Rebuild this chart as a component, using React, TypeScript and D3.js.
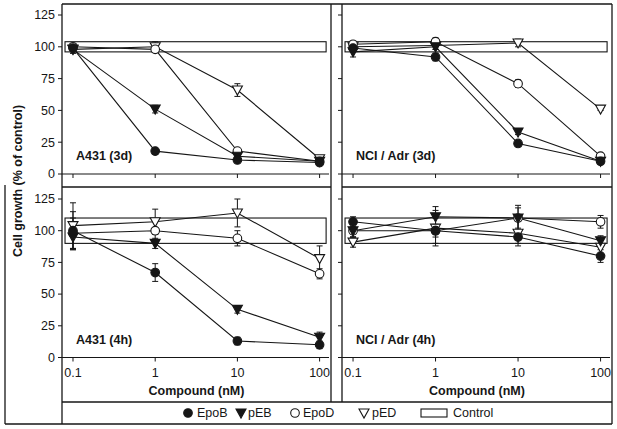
import React from "react";
import * as d3 from "d3";

// ---- data ----
const concentrations = [0.1, 1, 10, 100];
const xTicks = [0.1, 1, 10, 100];
const xTickLabels = ["0.1", "1", "10", "100"];
const yTicks = [0, 25, 50, 75, 100, 125];
const seriesNames = ["EpoB", "pEB", "EpoD", "pED"];
const panelTitles = ["A431 (3d)", "NCI / Adr (3d)", "A431 (4h)", "NCI / Adr (4h)"];

// A431 (3d)
const a431_3d_EpoB = [99, 18, 11, 9];
const a431_3d_pEB = [98, 51, 14, 10];
const a431_3d_EpoD = [100, 98, 18, 10];
const a431_3d_pED = [98, 100, 66, 12];
const a431_3d_err = [[2, 1, 1, 1], [3, 3, 1, 1], [2, 2, 1, 1], [3, 4, 5, 2]];

// NCI / Adr (3d)
const nci_3d_EpoB = [99, 92, 24, 10];
const nci_3d_pEB = [96, 100, 33, 10];
const nci_3d_EpoD = [102, 104, 71, 14];
const nci_3d_pED = [100, 101, 103, 51];
const nci_3d_err = [[2, 3, 1, 1], [4, 2, 2, 1], [2, 3, 3, 1], [2, 3, 3, 1]];

// A431 (4h)
const a431_4h_EpoB = [100, 67, 13, 10];
const a431_4h_pEB = [95, 90, 38, 16];
const a431_4h_EpoD = [98, 100, 94, 66];
const a431_4h_pED = [104, 107, 114, 78];
const a431_4h_err = [[15, 7, 3, 3], [10, 4, 3, 4], [12, 8, 6, 4], [18, 10, 11, 10]];

// NCI / Adr (4h)
const nci_4h_EpoB = [107, 100, 95, 80];
const nci_4h_pEB = [100, 111, 110, 92];
const nci_4h_EpoD = [100, 100, 110, 107];
const nci_4h_pED = [91, 102, 98, 87];
const nci_4h_err = [[4, 5, 5, 5], [5, 8, 8, 4], [5, 10, 10, 5], [4, 14, 10, 6]];

// control band (mean +/- range) per panel
const controlLow = [96, 96, 90, 90];
const controlHigh = [104, 104, 110, 110];
const controlX = [0.08, 120];

const panelValues = [
  [a431_3d_EpoB, a431_3d_pEB, a431_3d_EpoD, a431_3d_pED],
  [nci_3d_EpoB, nci_3d_pEB, nci_3d_EpoD, nci_3d_pED],
  [a431_4h_EpoB, a431_4h_pEB, a431_4h_EpoD, a431_4h_pED],
  [nci_4h_EpoB, nci_4h_pEB, nci_4h_EpoD, nci_4h_pED],
];
const panelErrors = [a431_3d_err, nci_3d_err, a431_4h_err, nci_4h_err];

// ---- layout ----
const W = 617;
const H = 429;
const INK = "#161616";
const FONT = "'Liberation Sans', Arial, Helvetica, sans-serif";
const cols = [
  { x0: 62, x1: 331 },
  { x0: 342, x1: 612 },
];
const rows = [
  { y0: 174, y1: 15 },
  { y0: 357.5, y1: 199 },
];
const TOP = 4;
const DIV = 187;
const LEG_TOP = 402;
const BOTTOM = 424;

function Marker({ type, x, y }: { type: number; x: number; y: number }) {
  const filled = type === 0 || type === 1;
  const fill = filled ? INK : "#fff";
  if (type === 0 || type === 2) {
    return <circle cx={x} cy={y} r={4.3} fill={fill} stroke={INK} strokeWidth={1.1} />;
  }
  const p = `M${x - 5},${y - 4}L${x + 5},${y - 4}L${x},${y + 5}Z`;
  return <path d={p} fill={fill} stroke={INK} strokeWidth={1.1} strokeLinejoin="miter" />;
}

function Panel({ idx }: { idx: number }) {
  const col = cols[idx % 2];
  const row = rows[Math.floor(idx / 2)];
  const x = d3.scaleLog().domain([0.0735, 137.6]).range([col.x0, col.x1]);
  const y = d3.scaleLinear().domain([0, 125]).range([row.y0, row.y1]);
  const values = panelValues[idx];
  const errs = panelErrors[idx];
  const line = d3
    .line<number>()
    .x((_, i) => x(concentrations[i]))
    .y((v) => y(v));
  const showLabels = idx % 2 === 0;
  return (
    <g>
      {/* control box */}
      <rect
        x={x(controlX[0])}
        y={y(controlHigh[idx])}
        width={x(controlX[1]) - x(controlX[0])}
        height={y(controlLow[idx]) - y(controlHigh[idx])}
        fill="none"
        stroke={INK}
        strokeWidth={1.1}
      />
      {/* x axis */}
      <line x1={col.x0} x2={col.x1 - 2} y1={row.y0} y2={row.y0} stroke={INK} strokeWidth={1.2} />
      {xTicks.map((t, i) => (
        <g key={i}>
          <line x1={x(t)} x2={x(t)} y1={row.y0} y2={row.y0 + 4} stroke={INK} strokeWidth={1} />
          {idx >= 2 && (
            <text x={x(t)} y={row.y0 + 19} textAnchor="middle" fontSize={12.5} fontFamily={FONT} fill={INK}>
              {xTickLabels[i]}
            </text>
          )}
        </g>
      ))}
      {/* y ticks */}
      {yTicks.map((t) => (
        <g key={t}>
          <line x1={col.x0 - 4} x2={col.x0} y1={y(t)} y2={y(t)} stroke={INK} strokeWidth={1} />
          {showLabels && (
            <text
              x={col.x0 - 7}
              y={y(t)}
              dy="0.35em"
              textAnchor="end"
              fontSize={12.5}
              fontFamily={FONT}
              fill={INK}
            >
              {t}
            </text>
          )}
        </g>
      ))}
      {/* lines */}
      {values.map((vals, s) => (
        <path key={s} d={line(vals) || ""} fill="none" stroke={INK} strokeWidth={1.1} />
      ))}
      {/* error bars */}
      {values.map((vals, s) =>
        vals.map((v, i) => {
          const e = errs[s][i];
          const cx = x(concentrations[i]);
          return (
            <g key={`${s}-${i}`} stroke={INK} strokeWidth={1}>
              <line x1={cx} x2={cx} y1={y(v - e)} y2={y(v + e)} />
              <line x1={cx - 3} x2={cx + 3} y1={y(v + e)} y2={y(v + e)} />
              <line x1={cx - 3} x2={cx + 3} y1={y(v - e)} y2={y(v - e)} />
            </g>
          );
        })
      )}
      {/* markers */}
      {[3, 2, 1, 0].map((s) =>
        values[s].map((v, i) => <Marker key={`${s}-${i}`} type={s} x={x(concentrations[i])} y={y(v)} />)
      )}
      <text
        x={col.x0 + 14}
        y={row.y0 - 14}
        fontSize={12.5}
        fontWeight="bold"
        fontFamily={FONT}
        fill={INK}
      >
        {panelTitles[idx]}
      </text>
    </g>
  );
}

const legendX = [188, 241, 295, 364];
const legendTextX = [197, 248, 303, 372];

export default function App() {
  const legY = (LEG_TOP + BOTTOM) / 2;
  return (
    <svg
      width={W}
      height={H}
      viewBox={`0 0 ${W} ${H}`}
      style={{ position: "absolute", left: 0, top: 0, background: "#fff" }}
    >
      <rect x={0} y={0} width={W} height={H} fill="#fff" />
      {/* frame lines */}
      <g stroke={INK} strokeWidth={1.3} fill="none">
        <line x1={62} x2={612} y1={TOP} y2={TOP} />
        <line x1={62} x2={62} y1={TOP} y2={BOTTOM} />
        <line x1={612} x2={612} y1={TOP} y2={BOTTOM} />
        <line x1={331} x2={331} y1={TOP} y2={LEG_TOP} />
        <line x1={342} x2={342} y1={TOP} y2={LEG_TOP} />
        <line x1={62} x2={331} y1={DIV} y2={DIV} />
        <line x1={342} x2={612} y1={DIV} y2={DIV} />
        <line x1={62} x2={612} y1={LEG_TOP} y2={LEG_TOP} />
        <line x1={5} x2={612} y1={BOTTOM} y2={BOTTOM} />
        <line x1={5} x2={5} y1={DIV - 2} y2={BOTTOM} />
      </g>
      {[0, 1, 2, 3].map((i) => (
        <Panel key={i} idx={i} />
      ))}
      {/* axis titles */}
      <text
        transform={`translate(22,181) rotate(-90)`}
        textAnchor="middle"
        fontSize={12.5}
        fontWeight="bold"
        fontFamily={FONT}
        fill={INK}
      >
        Cell growth (% of control)
      </text>
      {cols.map((c, i) => (
        <text
          key={i}
          x={(c.x0 + c.x1) / 2}
          y={395}
          textAnchor="middle"
          fontSize={12.5}
          fontWeight="bold"
          fontFamily={FONT}
          fill={INK}
        >
          Compound (nM)
        </text>
      ))}
      {/* legend */}
      {seriesNames.map((n, i) => (
        <g key={n}>
          <Marker type={i} x={legendX[i]} y={legY} />
          <text x={legendTextX[i]} y={legY} dy="0.35em" fontSize={12.5} fontFamily={FONT} fill={INK}>
            {n}
          </text>
        </g>
      ))}
      <rect x={421} y={legY - 4} width={26} height={8} fill="none" stroke={INK} strokeWidth={1.1} />
      <text x={453} y={legY} dy="0.35em" fontSize={12.5} fontFamily={FONT} fill={INK}>
        Control
      </text>
    </svg>
  );
}
